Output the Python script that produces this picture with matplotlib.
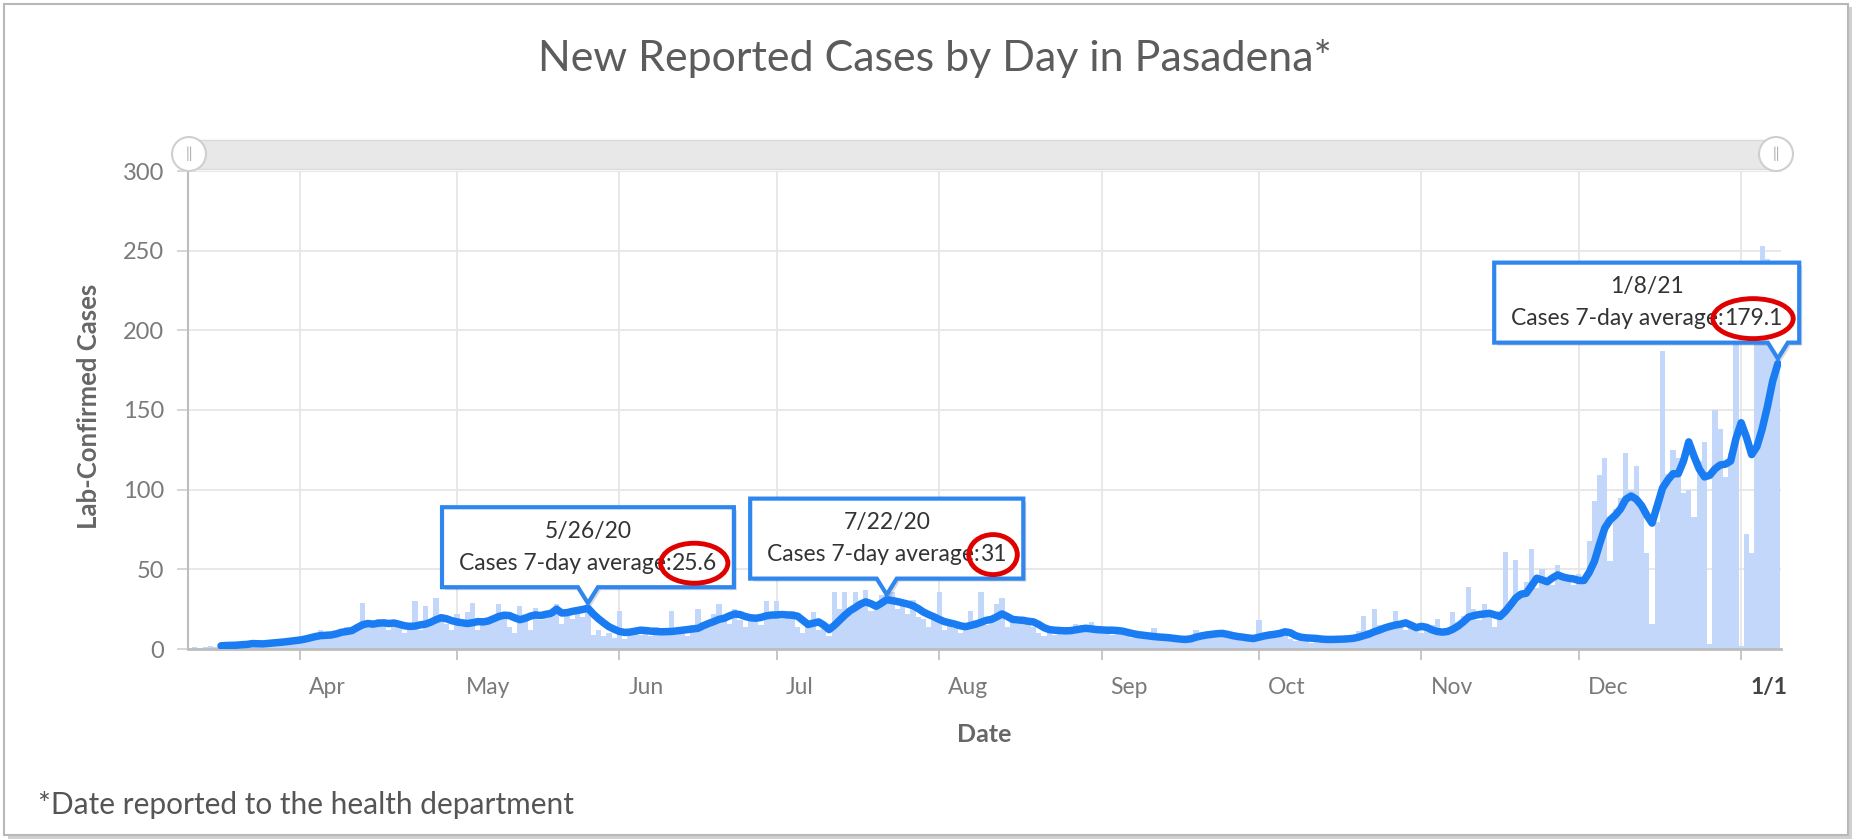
import numpy as np
import pandas as pd
import matplotlib
matplotlib.use("Agg")
import matplotlib.pyplot as plt
import matplotlib.dates as mdates
from matplotlib.patches import Rectangle, Polygon, Ellipse, Circle
from matplotlib.transforms import IdentityTransform, ScaledTranslation

plt.rcParams['font.family'] = ['Lato', 'DejaVu Sans']

# daily lab-confirmed cases (bars), first day 3/11/20
first_day = "2020-03-11"
cases_mar = [0, 1, 0, 1, 2, 1, 3, 2, 4, 3, 2, 5, 4, 3, 3, 5, 4, 6, 5, 7, 6]
cases_apr = [6, 8, 9, 7, 12, 8, 10, 11, 9, 14, 13, 12, 29, 16, 14, 19, 17, 12, 15, 13,
             10, 14, 30, 12, 27, 15, 32, 22, 16, 12]
cases_may = [22, 14, 23, 29, 12, 16, 18, 20, 28, 23, 14, 10, 27, 22, 12, 26, 18, 24, 20, 28,
             16, 25, 19, 24, 20, 27, 9, 12, 8, 10, 7]
cases_jun = [24, 6, 10, 12, 9, 11, 8, 14, 13, 9, 24, 10, 12, 8, 15, 25, 17, 14, 22, 28,
             20, 16, 25, 18, 14, 21, 17, 15, 30, 22]
cases_jul = [30, 19, 20, 24, 14, 10, 16, 23, 12, 15, 8, 36, 25, 36, 22, 36, 28, 37, 24, 26,
             34, 35, 36, 25, 28, 22, 31, 20, 19, 14, 18]
cases_aug = [36, 12, 15, 13, 10, 16, 24, 18, 36, 15, 20, 28, 32, 14, 17, 16, 20, 18, 14, 10,
             8, 12, 9, 13, 10, 12, 16, 11, 14, 17, 10]
cases_sep = [12, 14, 9, 11, 10, 8, 7, 9, 6, 10, 13, 7, 5, 8, 6, 4, 5, 6, 12, 9,
             8, 11, 10, 9, 7, 8, 6, 5, 7, 6]
cases_oct = [18, 9, 8, 7, 10, 12, 6, 5, 7, 6, 4, 5, 6, 7, 6, 5, 8, 6, 9, 11,
             21, 12, 25, 15, 14, 16, 24, 17, 12, 15, 13]
cases_nov = [10, 12, 15, 19, 9, 13, 23, 17, 21, 39, 25, 18, 28, 20, 14, 24, 61, 30, 56, 35,
             42, 63, 38, 50, 44, 40, 53, 45, 42, 40]
cases_dec = [47, 45, 68, 93, 109, 120, 55, 88, 95, 123, 100, 115, 90, 60, 16, 80, 187, 110, 125, 120,
             98, 100, 83, 118, 130, 3, 150, 138, 108, 123, 225]
cases_jan = [2, 72, 60, 200, 253, 245, 210, 210]
cases = (cases_mar + cases_apr + cases_may + cases_jun + cases_jul + cases_aug
         + cases_sep + cases_oct + cases_nov + cases_dec + cases_jan)

# 7-day average (line), first day 3/17/20
avg_start = "2020-03-17"
avg_mar = [2.0, 2.2, 2.3, 2.4, 2.7, 2.9, 3.4, 3.3, 3.2, 3.5, 3.8, 4.1, 4.4, 4.8, 5.2]
avg_apr = [5.6, 6.2, 7.0, 7.8, 8.4, 8.6, 8.8, 9.5, 10.5, 11.0, 11.6, 13.5, 15.2, 16.0, 15.6,
           16.2, 16.4, 16.0, 16.3, 15.5, 14.6, 14.2, 14.4, 15.1, 15.6, 16.8, 18.4, 19.6, 19.0, 17.8]
avg_may = [17.0, 16.4, 16.0, 16.5, 17.2, 17.0, 17.6, 19.0, 20.4, 21.2, 21.0, 19.6, 18.4, 19.2, 20.6,
           21.4, 21.0, 21.8, 22.4, 25.0, 22.6, 22.8, 23.6, 24.2, 24.8, 25.6, 22.0, 19.0, 16.4, 14.0, 12.4]
avg_jun = [11.0, 10.4, 10.6, 11.2, 11.8, 11.6, 11.2, 11.0, 10.8, 10.9, 11.0, 11.4, 11.8, 12.2, 12.6,
           13.0, 14.6, 16.0, 17.2, 18.6, 19.3, 20.8, 22.0, 21.6, 20.4, 19.6, 19.3, 19.8, 20.8, 21.3]
avg_jul = [21.4, 21.6, 21.4, 21.2, 20.6, 18.0, 15.4, 16.2, 17.0, 15.0, 12.2, 14.8, 18.0, 21.2, 24.0,
           26.0, 28.2, 29.6, 28.4, 26.8, 28.8, 31.0, 30.4, 29.8, 29.0, 28.2, 27.2, 25.4, 23.2, 21.6, 20.2]
avg_aug = [18.6, 17.2, 16.4, 15.6, 14.6, 14.0, 14.8, 15.6, 16.8, 18.0, 18.6, 20.2, 22.0, 20.4, 18.6,
           18.2, 18.0, 17.4, 17.0, 15.4, 13.4, 12.2, 11.8, 11.6, 11.4, 11.5, 12.0, 12.6, 13.0, 12.6, 12.2]
avg_sep = [12.0, 11.8, 11.8, 11.6, 11.2, 10.4, 9.6, 9.0, 8.6, 8.2, 7.8, 7.5, 7.3, 7.0, 6.6,
           6.2, 6.0, 6.4, 7.4, 8.2, 8.8, 9.2, 9.6, 9.8, 9.2, 8.4, 7.8, 7.4, 6.9, 6.6]
avg_oct = [7.4, 8.2, 8.8, 9.2, 9.8, 10.8, 10.2, 8.4, 7.4, 7.0, 6.8, 6.6, 6.2, 6.0, 6.0,
           6.1, 6.2, 6.4, 6.7, 7.4, 8.4, 9.4, 10.8, 11.9, 13.2, 14.2, 15.0, 15.6, 16.4, 15.0, 13.4]
avg_nov = [14.2, 13.6, 12.0, 11.0, 10.6, 11.0, 12.4, 14.4, 17.0, 20.0, 21.0, 21.6, 22.0, 22.4, 21.4,
           20.4, 23.6, 27.6, 32.0, 34.4, 35.0, 39.6, 44.4, 43.4, 42.2, 44.6, 46.5, 45.2, 44.4, 44.0]
avg_dec = [43.0, 43.0, 48.0, 55.0, 66.0, 76.0, 81.0, 84.0, 88.0, 94.0, 96.0, 94.0, 90.0, 84.0, 79.0,
           90.0, 101.0, 106.0, 110.0, 110.0, 118.0, 130.0, 121.0, 113.0, 108.0, 109.0, 113.0, 115.5, 116.0, 118.0, 132.0]
avg_jan = [142.0, 133.0, 122.0, 127.0, 138.0, 152.0, 168.0, 179.1]
avg7 = (avg_mar + avg_apr + avg_may + avg_jun + avg_jul + avg_aug
        + avg_sep + avg_oct + avg_nov + avg_dec + avg_jan)

month_ticks = ["2020-04-01", "2020-05-01", "2020-06-01", "2020-07-01", "2020-08-01",
               "2020-09-01", "2020-10-01", "2020-11-01", "2020-12-01", "2021-01-01"]
month_labels = ["Apr", "May", "Jun", "Jul", "Aug", "Sep", "Oct", "Nov", "Dec", "1/1"]

callout_dates = ["2020-05-26", "2020-07-22", "2021-01-08"]
callout_titles = ["5/26/20", "7/22/20", "1/8/21"]
callout_values = ["25.6", "31", "179.1"]

BAR = "#c3d7fa"
LINE = "#1a7cf2"
BOX = "#2f86ee"
W, H = 1856, 840

fig = plt.figure(figsize=(W / 100, H / 100), dpi=100)
ident = IdentityTransform()

# outer card with a soft shadow
fig.add_artist(Rectangle((8, 1), W - 12, H - 8, transform=ident, fc="#d0d0d0", ec="none", zorder=-2))
fig.add_artist(Rectangle((4, 5), W - 12, H - 9, transform=ident, fc="white", ec="#b8b8b8", lw=1.5, zorder=-1))

ax = fig.add_axes([188 / W, 1 - 649 / H, (1781 - 188) / W, (649 - 171) / H])
ax.patch.set_alpha(0)

days = pd.date_range(first_day, periods=len(cases))
avg_days = pd.date_range(avg_start, periods=len(avg7))
ax.bar(days, cases, width=1.0, color=BAR, linewidth=0, zorder=2)
ax.plot(avg_days, avg7, color=LINE, lw=5.4, solid_joinstyle="round", solid_capstyle="round", zorder=3)

ax.set_xlim(mdates.date2num(pd.Timestamp("2020-03-10")) + 0.7,
            mdates.date2num(pd.Timestamp("2021-01-08")) + 0.6)
ax.set_ylim(0, 300)
ax.set_yticks(np.arange(0, 301, 50))
ax.set_xticks(pd.to_datetime(month_ticks))
ax.set_xticklabels(month_labels)
ax.grid(True, color="#e6e6e6", lw=1.3, zorder=0)
ax.set_axisbelow(True)
for s in ["top", "right"]:
    ax.spines[s].set_visible(False)
ax.spines["left"].set_color("#bdbdbd")
ax.spines["left"].set_linewidth(1.5)
ax.spines["bottom"].set_color("#bdbdbd")
ax.spines["bottom"].set_linewidth(2)
ax.tick_params(axis="y", length=8, width=1.2, color="#d0d0d0", pad=9, labelsize=17, labelcolor="#7a7a7a")
ax.tick_params(axis="x", length=8, width=1.2, color="#bdbdbd", pad=12, labelsize=16.5, labelcolor="#7a7a7a")
shift = ScaledTranslation(9 / 100, 0, fig.dpi_scale_trans)
for lab in ax.get_xticklabels():
    lab.set_horizontalalignment("left")
    lab.set_transform(lab.get_transform() + shift)
last = ax.get_xticklabels()[-1]
last.set_fontweight("bold")
last.set_color("#444444")

# texts
fig.text(0.504, 1 - 58 / H, "New Reported Cases by Day in Pasadena*", ha="center", va="center",
         fontsize=31, color="#5c5c5c")
fig.text(89 / W, 1 - 406 / H, "Lab-Confirmed Cases", rotation=90, ha="center", va="center",
         fontsize=18.5, color="#666666", fontweight="bold")
fig.text(984 / W, 1 - 735 / H, "Date", ha="center", va="center", fontsize=18,
         color="#666666", fontweight="bold")
fig.text(38 / W, 1 - 805 / H, "*Date reported to the health department", ha="left", va="center",
         fontsize=21.5, color="#555555")

# range slider above the plot
fig.add_artist(Rectangle((188, H - 169), 1590, 29, transform=ident, fc="#e8e8e8", ec="#dadada", lw=1, zorder=4))
for cx in [189, 1776]:
    fig.add_artist(Circle((cx, H - 154), 17, transform=ident, fc="white", ec="#cfcfcf", lw=1.5, zorder=5))
    fig.text(cx, H - 154, "||", transform=ident, ha="center", va="center", fontsize=11,
             color="#aaaaaa", zorder=6)

# tooltips
renderer = fig.canvas.get_renderer()
fracs = [0.5, 0.5, 0.93]
for d, title, val, frac in zip(callout_dates, callout_titles, callout_values, fracs):
    tx, ty = ax.transData.transform((mdates.date2num(pd.Timestamp(d)), float(val)))
    ty += 5
    ptr, bh = 16, 80
    t1 = fig.text(0, 0, "Cases 7-day average:", transform=ident, fontsize=16.5, color="#333333",
                  ha="left", va="center", zorder=12)
    t2 = fig.text(0, 0, val, transform=ident, fontsize=16.5, color="#333333",
                  ha="left", va="center", zorder=12)
    w1 = t1.get_window_extent(renderer).width
    w2 = t2.get_window_extent(renderer).width
    bw = w1 + w2 + 34
    left = tx - frac * bw
    bottom = ty + ptr
    top = bottom + bh
    pts = [(left, bottom), (tx - 10, bottom), (tx, ty), (tx + 10, bottom),
           (left + bw, bottom), (left + bw, top), (left, top)]
    fig.add_artist(Polygon([(x + 3, y - 3) for x, y in pts], closed=True, transform=ident,
                           fc="black", alpha=0.15, ec="none", zorder=10))
    fig.add_artist(Polygon(pts, closed=True, transform=ident, fc="white", ec=BOX, lw=3,
                           joinstyle="miter", zorder=11))
    fig.text(left + bw / 2, top - 24, title, transform=ident, ha="center", va="center",
             fontsize=16.5, color="#333333", zorder=12)
    x0 = left + bw / 2 - (w1 + w2) / 2
    t1.set_position((x0, top - 56))
    t2.set_position((x0 + w1, top - 56))
    fig.add_artist(Ellipse((x0 + w1 + w2 / 2, top - 56), w2 + 22, 40, transform=ident,
                           fc="none", ec="#e00000", lw=3.5, zorder=13))

fig.savefig("out.png", dpi=100)
